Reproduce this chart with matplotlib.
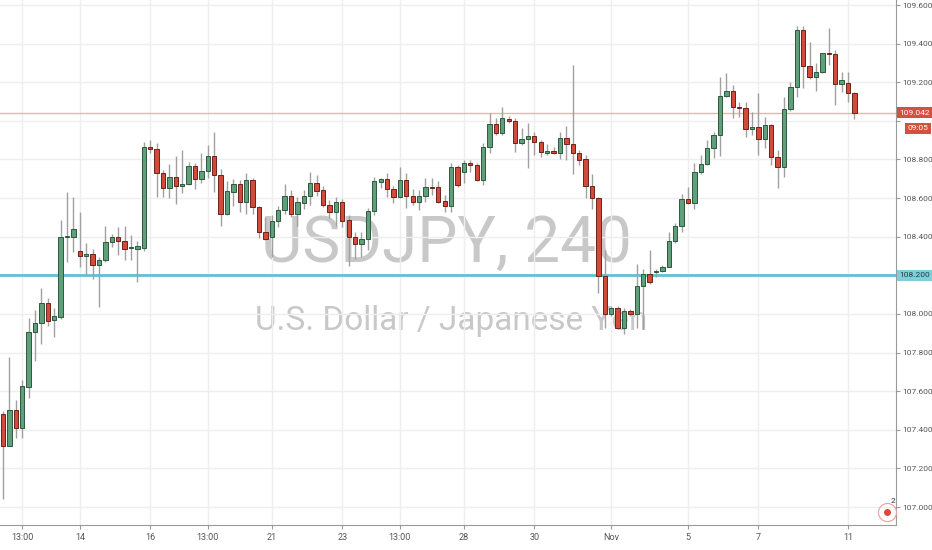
import numpy as np
import matplotlib
matplotlib.use("Agg")
import matplotlib.pyplot as plt

plt.rcParams['font.family'] = ['Roboto', 'DejaVu Sans']

# 4h candles USDJPY
op = [107.482, 107.317, 107.503, 107.411, 107.623, 107.904, 107.955, 108.059, 107.970, 107.986,
      108.396, 108.396, 108.324, 108.298, 108.313, 108.256, 108.277, 108.371, 108.396, 108.376,
      108.342, 108.339, 108.344, 108.863, 108.853, 108.728, 108.650, 108.707, 108.661, 108.671,
      108.765, 108.697, 108.739, 108.817, 108.718, 108.520, 108.630, 108.671, 108.578, 108.692,
      108.552, 108.422, 108.401, 108.479, 108.536, 108.609, 108.520, 108.573, 108.609, 108.676,
      108.640, 108.562, 108.526, 108.578, 108.489, 108.401, 108.360, 108.386, 108.531, 108.682,
      108.697, 108.645, 108.604, 108.692, 108.609, 108.578, 108.609, 108.656, 108.656, 108.583,
      108.557, 108.759, 108.733, 108.780, 108.770, 108.692, 108.863, 108.982, 108.936, 109.008,
      108.998, 108.884, 108.904, 108.920, 108.889, 108.832, 108.842, 108.832, 108.910, 108.879,
      108.832, 108.801, 108.661, 108.599, 108.194, 108.002, 108.033, 107.929, 108.017, 108.002,
      108.147, 108.209, 108.215, 108.220, 108.241, 108.376, 108.453, 108.593, 108.573, 108.733,
      108.775, 108.858, 108.925, 109.128, 109.154, 109.071, 109.066, 108.956, 108.967, 108.904,
      108.977, 108.811, 108.759, 109.060, 109.174, 109.470, 109.283, 109.226, 109.252, 109.351,
      109.346, 109.190, 109.195, 109.143]
hi = [107.498, 107.779, 107.555, 107.659, 107.981, 108.022, 108.137, 108.085, 108.033, 108.489,
      108.630, 108.604, 108.526, 108.365, 108.339, 108.293, 108.458, 108.416, 108.448, 108.453,
      108.411, 108.376, 108.889, 108.899, 108.884, 108.744, 108.775, 108.817, 108.848, 108.785,
      108.780, 108.832, 108.874, 108.941, 108.749, 108.687, 108.697, 108.692, 108.728, 108.702,
      108.557, 108.500, 108.510, 108.557, 108.671, 108.640, 108.604, 108.640, 108.733, 108.718,
      108.661, 108.588, 108.604, 108.593, 108.515, 108.422, 108.427, 108.547, 108.707, 108.702,
      108.728, 108.661, 108.759, 108.728, 108.645, 108.640, 108.702, 108.702, 108.687, 108.614,
      108.780, 108.770, 108.796, 108.796, 108.780, 108.884, 109.040, 109.014, 109.071, 109.024,
      109.014, 108.962, 108.988, 108.941, 108.899, 108.879, 108.863, 108.941, 108.972, 109.289,
      108.848, 108.822, 108.723, 108.604, 108.329, 108.043, 108.043, 108.033, 108.028, 108.261,
      108.235, 108.329, 108.235, 108.251, 108.427, 108.469, 108.619, 108.656, 108.780, 108.822,
      108.899, 108.941, 109.226, 109.247, 109.185, 109.097, 109.097, 109.045, 109.143, 109.019,
      108.982, 108.848, 109.123, 109.200, 109.491, 109.491, 109.408, 109.299, 109.351, 109.481,
      109.366, 109.252, 109.252, 109.148]
lo = [107.041, 107.317, 107.359, 107.359, 107.566, 107.758, 107.846, 107.939, 107.883, 107.976,
      108.267, 108.319, 108.241, 108.204, 108.183, 108.038, 108.267, 108.345, 108.303, 108.282,
      108.282, 108.163, 108.324, 108.832, 108.604, 108.604, 108.599, 108.567, 108.624, 108.666,
      108.645, 108.676, 108.702, 108.630, 108.453, 108.515, 108.557, 108.526, 108.520, 108.520,
      108.391, 108.381, 108.293, 108.448, 108.520, 108.500, 108.458, 108.541, 108.562, 108.609,
      108.552, 108.495, 108.458, 108.448, 108.246, 108.287, 108.293, 108.329, 108.510, 108.650,
      108.604, 108.573, 108.599, 108.547, 108.562, 108.536, 108.578, 108.614, 108.573, 108.526,
      108.526, 108.656, 108.676, 108.733, 108.687, 108.666, 108.832, 108.925, 108.925, 108.988,
      108.837, 108.873, 108.754, 108.822, 108.811, 108.822, 108.827, 108.801, 108.796, 108.723,
      108.770, 108.599, 108.541, 108.111, 107.929, 107.991, 107.924, 107.898, 107.991, 107.929,
      107.924, 108.157, 108.189, 108.215, 108.241, 108.370, 108.427, 108.567, 108.541, 108.723,
      108.770, 108.806, 108.817, 109.123, 109.014, 109.019, 108.915, 108.925, 108.822, 108.858,
      108.770, 108.650, 108.707, 109.050, 109.123, 109.169, 109.216, 109.154, 109.247, 109.289,
      109.081, 109.148, 109.097, 109.009]
cl = [107.317, 107.503, 107.411, 107.628, 107.904, 107.955, 108.059, 107.965, 107.991, 108.401,
      108.401, 108.442, 108.298, 108.313, 108.256, 108.277, 108.371, 108.396, 108.376, 108.339,
      108.344, 108.350, 108.863, 108.853, 108.728, 108.650, 108.707, 108.661, 108.671, 108.765,
      108.697, 108.739, 108.817, 108.718, 108.520, 108.635, 108.671, 108.578, 108.692, 108.552,
      108.422, 108.386, 108.479, 108.536, 108.609, 108.520, 108.578, 108.609, 108.676, 108.635,
      108.562, 108.526, 108.578, 108.484, 108.396, 108.360, 108.386, 108.531, 108.687, 108.697,
      108.645, 108.604, 108.692, 108.609, 108.578, 108.609, 108.656, 108.650, 108.578, 108.557,
      108.759, 108.666, 108.780, 108.770, 108.692, 108.863, 108.982, 108.936, 109.014, 108.998,
      108.884, 108.904, 108.920, 108.889, 108.837, 108.842, 108.832, 108.910, 108.879, 108.832,
      108.796, 108.661, 108.599, 108.194, 108.002, 108.033, 107.929, 108.017, 108.002, 108.147,
      108.209, 108.163, 108.220, 108.241, 108.376, 108.453, 108.593, 108.573, 108.733, 108.775,
      108.858, 108.925, 109.128, 109.154, 109.071, 109.066, 108.956, 108.967, 108.904, 108.977,
      108.811, 108.759, 109.060, 109.174, 109.470, 109.283, 109.226, 109.252, 109.351, 109.346,
      109.190, 109.211, 109.143, 109.042]

tick_idx = [3, 12, 23, 32, 42, 53, 62, 72, 83, 95, 107, 118, 132]
tick_lbl = ['13:00', '14', '16', '13:00', '21', '23', '13:00', '28', '30', 'Nov', '5', '7', '11']

price_ticks = np.round(np.arange(107.0, 109.61, 0.2), 1)
support = 108.200
last_price = 109.042
countdown = '09:05'
title = 'USDJPY, 240'
subtitle = 'U.S. Dollar / Japanese Yen'

GREEN = '#5f9f79'
GREEN_E = '#2c5a3e'
RED = '#d44a3a'
RED_E = '#6e2118'
WICK = '#a0a0a0'
GRID = '#eeeeee'
TXT = '#555555'

fig = plt.figure(figsize=(9.32, 5.5), dpi=100)
ax = fig.add_axes([0, 25 / 550, 896 / 932, 525 / 550])

n = len(op)
x = np.arange(n)
op_a, hi_a, lo_a, cl_a = map(np.array, (op, hi, lo, cl))
up = cl_a >= op_a

# watermark
ax.text(0.498, 0.501, title, transform=ax.transAxes, ha='center', va='baseline',
        fontsize=46, color='#c8c8c8', zorder=0)
ax.text(0.503, 0.371, subtitle, transform=ax.transAxes, ha='center', va='baseline',
        fontsize=24, color='#c8c8c8', zorder=0)

# levels
ax.axhline(support, color='#5cc3d3', lw=2.0, zorder=1)
ax.axhline(last_price, color='#f3b1a8', lw=1.0, zorder=1)

# candles
ax.vlines(x, lo_a, hi_a, color=WICK, lw=1.0, zorder=2)
body = np.where(np.abs(cl_a - op_a) < 0.006, np.sign(cl_a - op_a + 1e-9) * 0.006, cl_a - op_a)
ax.bar(x[up], body[up], bottom=op_a[up], width=0.68, color=GREEN, edgecolor=GREEN_E,
       linewidth=0.7, zorder=3)
ax.bar(x[~up], body[~up], bottom=op_a[~up], width=0.68, color=RED, edgecolor=RED_E,
       linewidth=0.7, zorder=3)

ax.set_xlim(-0.47, 139.5)
ax.set_ylim(106.907, 109.626)

ax.set_xticks(tick_idx)
ax.set_xticklabels(tick_lbl)
ax.set_yticks(price_ticks)
# labels under the 108.200 and 09:05 boxes are hidden, as in the reference
ax.set_yticklabels(['' if v in (108.2, 109.0) else '%.3f' % v for v in price_ticks])
ax.yaxis.tick_right()
ax.grid(True, color=GRID, lw=1.0, zorder=0)
ax.set_axisbelow(True)

for s in ['top', 'left']:
    ax.spines[s].set_visible(False)
ax.spines['right'].set_color('#9a9a9a')
ax.spines['bottom'].set_color('#9a9a9a')
ax.tick_params(axis='y', length=3, width=0.8, color='#9a9a9a', labelsize=6, labelcolor=TXT, pad=1.5)
ax.tick_params(axis='x', length=3, width=0.8, color='#9a9a9a', labelsize=6.5, labelcolor=TXT, pad=3)

# price labels on the axis
tr = ax.get_yaxis_transform()
ax.text(1.0035, last_price, '%.3f' % last_price, transform=tr, ha='left', va='center',
        fontsize=6, color='white', clip_on=False, zorder=10,
        bbox=dict(boxstyle='square,pad=0.3', fc='#d4503f', ec='none'))
ax.text(1.036, last_price - 0.08, countdown, transform=tr,
        ha='right', va='center', fontsize=6, color='white', clip_on=False, zorder=10,
        bbox=dict(boxstyle='square,pad=0.3', fc='#d4503f', ec='none'))
ax.text(1.0035, support, '%.3f' % support, transform=tr, ha='left', va='center',
        fontsize=6, color='#1e3d40', clip_on=False, zorder=10,
        bbox=dict(boxstyle='square,pad=0.3', fc='#7fcfdb', ec='none'))

# alert icon bottom right
ax.plot([0.99], [0.025], transform=ax.transAxes, marker='o', ms=4, color='#e0473a',
        clip_on=False, zorder=5)
ax.plot([0.99], [0.025], transform=ax.transAxes, marker='o', ms=13, mfc='none',
        mec='#eba197', mew=0.8, ls='none', clip_on=False, zorder=5)
ax.text(0.994, 0.042, '2', transform=ax.transAxes, fontsize=6, color='#333333')

fig.savefig('out.png', dpi=100, facecolor='white')
